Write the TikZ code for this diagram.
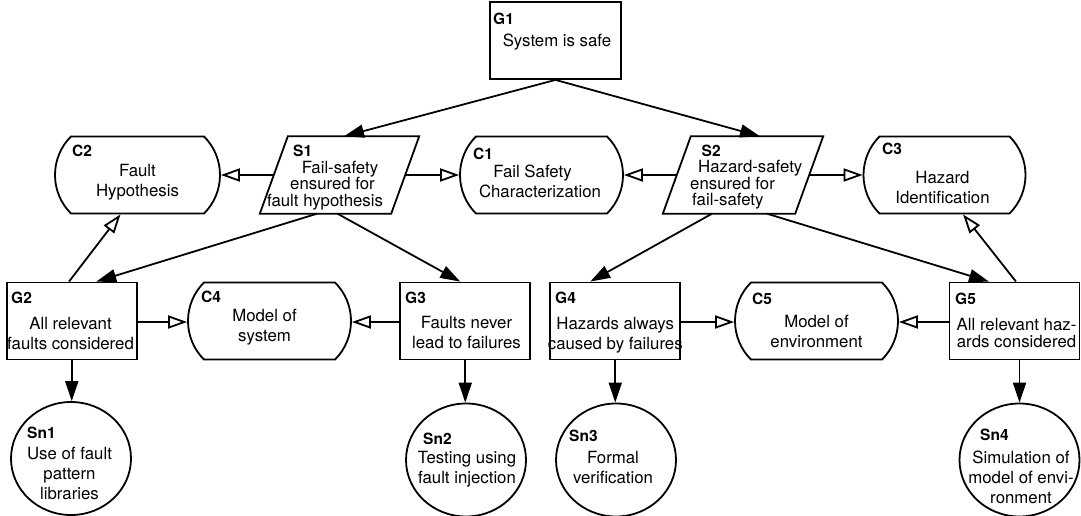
\documentclass[tikz,border=0pt]{standalone}
\usepackage{fontspec}
\setmainfont{TeX Gyre Heros}
\usetikzlibrary{shapes.misc,shapes.geometric,arrows.meta}
\newcommand\gsnbody{\fontsize{16.8}{20}\selectfont}
\newcommand\gsntight{\fontsize{16.8}{16.5}\selectfont}
\newcommand\gsnid{\fontsize{15.5}{18}\selectfont\bfseries}
\tikzset{
  edge/.style={line width=1.8pt},
  goal/.style={edge, draw, rectangle, inner sep=0pt, minimum width=130pt, minimum height=77pt},
  ctx/.style={edge, draw, rounded rectangle, rounded rectangle arc length=90,
              inner sep=0pt, minimum width=163pt, minimum height=77pt},
  strat/.style={rectangle, inner sep=0pt, minimum width=131pt, minimum height=77pt},
  sol/.style={edge, draw, ellipse, inner sep=0pt, minimum width=120pt, minimum height=113pt},
  idtag/.style={anchor=north west, inner sep=0pt, font=\gsnid},
  body/.style={align=center, inner sep=0pt, font=\gsnbody},
  solved/.style={edge, -{Triangle[length=20pt,width=13pt]}},
  incontext/.style={edge, -{Triangle[open,length=19pt,width=13pt]}},
}
\begin{document}
\begin{tikzpicture}[x=1pt, y=-1pt]
\useasboundingbox (0,0) rectangle (1081,516);

% ---- shapes ----
\node[goal, minimum width=131pt] (G1) at (555.5,40.5) {};
\node[strat] (S1) at (339.5,175) {};
\node[strat, minimum width=132pt] (S2) at (743,175) {};
\node[ctx, minimum width=165pt] (C2) at (137.5,175) {};
\node[ctx] (C1) at (541.5,175) {};
\node[ctx, minimum width=162pt] (C3) at (944.5,175) {};
\node[goal] (G2) at (71.75,321) {};
\node[ctx] (C4) at (269.5,321) {};
\node[goal] (G3) at (465.25,321) {};
\node[goal] (G4) at (615.25,321) {};
\node[ctx] (C5) at (816.5,321) {};
\node[goal] (G5) at (1014.5,321) {};
\node[sol] (Sn1) at (71,458.5) {};
\node[sol] (Sn2) at (466,460) {};
\node[sol] (Sn3) at (616,460) {};
\node[sol] (Sn4) at (1019.5,460) {};

% strategies are parallelograms around their nodes
\foreach \s/\d in {S1/14, S2/14}{
  \draw[edge, line join=miter]
    ([xshift=-\d pt]\s.south west) -- ([xshift=\d pt]\s.north west)
    -- ([xshift=\d pt]\s.north east) -- ([xshift=-\d pt]\s.south east) -- cycle;
}

% ---- identifiers ----
\node[idtag] (G1id) at (493,13) {G1};
\node[idtag] (S1id) at (293,145) {S1};
\node[idtag] (S2id) at (701.5,145) {S2};
\node[idtag] (C2id) at (72,145) {C2};
\node[idtag] (C1id) at (473,148) {C1};
\node[idtag] (C3id) at (882,143) {C3};
\node[idtag] (G2id) at (11,292) {G2};
\node[idtag] (C4id) at (201,291) {C4};
\node[idtag] (G3id) at (405,292) {G3};
\node[idtag] (G4id) at (555,292) {G4};
\node[idtag] (C5id) at (752,293) {C5};
\node[idtag] (G5id) at (955,293) {G5};
\node[idtag] (Sn1id) at (27,427) {Sn1};
\node[idtag] (Sn2id) at (423,433) {Sn2};
\node[idtag] (Sn3id) at (569,430) {Sn3};
\node[idtag] (Sn4id) at (980,429) {Sn4};

% ---- statements ----
\node[body] (G1t) at (557,42.5) {System is safe};
\node[body, font=\gsntight] (S1t) at (332.5,185.5)
  {\hspace*{15pt}Fail-safety\\ensured for\\fault hypothesis\hspace*{15pt}};
\node[body, font=\gsntight, align=left, anchor=west] (S2t) at (690,185)
  {\hspace*{8pt}Hazard-safety\\ensured for\\\hspace*{2pt}fail-safety};
\node[body] (C2t) at (137.5,182) {Fault\\Hypothesis};
\node[body] (C1t) at (540,181) {Fail Safety\hspace*{15pt}\\Characterization};
\node[body] (C3t) at (942.5,188) {Hazard\\Identification};
\node[body] (G2t) at (70.5,333.5) {All relevant\\faults considered};
\node[body] (C4t) at (264.5,327.5) {Model of\\system};
\node[body] (G3t) at (466.5,332) {Faults never\\lead to failures};
\node[body] (G4t) at (615.25,335) {Hazards always\\caused by failures};
\node[body] (C5t) at (816.5,331.5) {Model of\\environment};
\node[body, font={\fontsize{16.8}{17}\selectfont}] (G5t) at (1016.5,332.5)
  {All relevant haz-\\ards considered};
\node[body] (Sn1t) at (69.5,473) {Use of fault\\pattern\\libraries};
\node[body] (Sn2t) at (467,469.5) {Testing using\\fault injection};
\node[body] (Sn3t) at (613,467.5) {Formal\\verification};
\node[body] (Sn4t) at (1021,477.5) {Simulation of\\model of envi-\\ronment};

% ---- supported-by links ----
\draw[solved] (G1.south) -- ([xshift=4.5pt]S1.north);
\draw[solved] (G1.south) -- ([xshift=17pt]S2.north);
\draw[solved] ([xshift=-22.5pt]S1.south) -- ([xshift=24.5pt]G2.north);
\draw[solved] ([xshift=-2pt]S1.south) -- ([xshift=-5pt]G3.north);
\draw[solved] ([xshift=-31pt]S2.south) -- ([xshift=-25pt]G4.north);
\draw[solved] ([xshift=24pt]S2.south) -- ([xshift=-25.5pt]G5.north);
\draw[solved] (G2.south) -- (G2.south |- Sn1.north);
\draw[solved] (G3.south) -- (G3.south |- Sn2.north);
\draw[solved] (G4.south) -- (G4.south |- Sn3.north);
\draw[solved] (Sn4.north |- G5.south) -- (Sn4.north);

% ---- in-context-of links ----
\draw[incontext] (S1.west) -- (C2.east);
\draw[incontext] (S1.east) -- (C1.west);
\draw[incontext] (S2.west) -- (C1.east);
\draw[incontext] (S2.east) -- (C3.west);
\draw[incontext] ([xshift=-2.75pt]G2.north) -- ([xshift=-17pt]C2.south);
\draw[incontext] ([xshift=1.5pt]G5.north) -- ([xshift=18.5pt]C3.south);
\draw[incontext] ([yshift=-1pt]G2.east) -- ([yshift=-1pt]C4.west);
\draw[incontext] ([yshift=-1pt]G3.west) -- ([yshift=-1pt]C4.east);
\draw[incontext] ([yshift=-1pt]G4.east) -- ([yshift=-1pt]C5.west);
\draw[incontext] ([yshift=-1pt]G5.west) -- ([yshift=-1pt]C5.east);
\end{tikzpicture}
\end{document}
